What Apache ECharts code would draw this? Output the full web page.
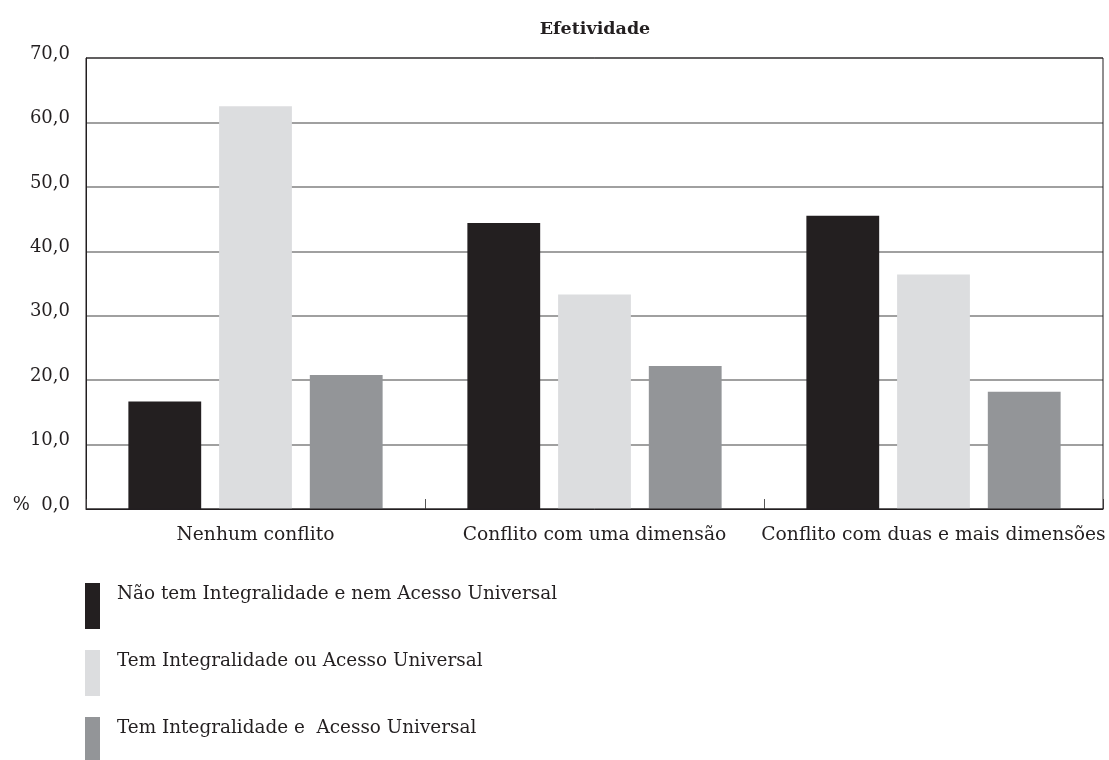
<!DOCTYPE html>
<html><head><meta charset="utf-8">
<script src="https://cdn.jsdelivr.net/npm/echarts@6/dist/echarts.min.js"></script>
<style>html,body{margin:0;padding:0;background:#fff}#c{width:1109px;height:760px}</style>
</head><body><div id="c"></div>
<script>
const categories = ['Nenhum conflito', 'Conflito com uma dimensão', 'Conflito com duas e mais dimensões'];
const seriesNames = ['Não tem Integralidade e nem Acesso Universal', 'Tem Integralidade ou Acesso Universal', 'Tem Integralidade e  Acesso Universal'];
const naoTem = [16.7, 44.4, 45.5];
const temOu = [62.5, 33.3, 36.4];
const temE = [20.8, 22.2, 18.2];
const colors = ['#231f20', '#dcdddf', '#939598'];
const font = 'DejaVu Serif';
const chart = echarts.init(document.getElementById('c'));
const mk = (name, data, i) => ({
  name, type: 'bar', data, barGap: '24.6%', barCategoryGap: '25%',
  itemStyle: { color: colors[i] }
});
chart.setOption({
  animation: false,
  title: { text: 'Efetividade', left: 590, textAlign: 'center', top: 15,
    textStyle: { fontFamily: font, fontWeight: 'bold', fontSize: 17.5, color: '#231f20' } },
  grid: { left: 86, right: 6, top: 58, bottom: 251, show: true, borderColor: '#231f20', borderWidth: 1, z: 5 },
  legend: {
    orient: 'vertical', left: 80, top: 578, height: 180, icon: 'rect', itemWidth: 15, itemHeight: 46, itemGap: 21,
    selectedMode: false,
    formatter: n => n + '\n ',
    textStyle: { fontFamily: font, fontSize: 18.4, color: '#231f20', lineHeight: 23, padding: [0, 0, 0, 12] },
    data: seriesNames
  },
  xAxis: {
    type: 'category', data: categories,
    axisLine: { lineStyle: { color: '#231f20', width: 1 } },
    axisTick: { show: true, inside: true, length: 10, interval: 0, lineStyle: { color: '#555', width: 1 } },
    axisLabel: { fontFamily: font, fontSize: 18.7, color: '#231f20', margin: 17, interval: 0 }
  },
  yAxis: {
    type: 'value', min: 0, max: 70, interval: 10,
    axisLine: { show: true, lineStyle: { color: '#231f20' } },
    axisTick: { show: false },
    splitLine: { lineStyle: { color: '#808080', width: 1.5 } },
    axisLabel: { fontFamily: font, fontSize: 18, color: '#231f20', margin: 16, verticalAlign: 'bottom', lineHeight: 8,
      formatter: v => (v === 0 ? '%  ' : '') + v.toFixed(1).replace('.', ',') }
  },
  series: [mk(seriesNames[0], naoTem, 0), mk(seriesNames[1], temOu, 1), mk(seriesNames[2], temE, 2)]
});
</script></body></html>
